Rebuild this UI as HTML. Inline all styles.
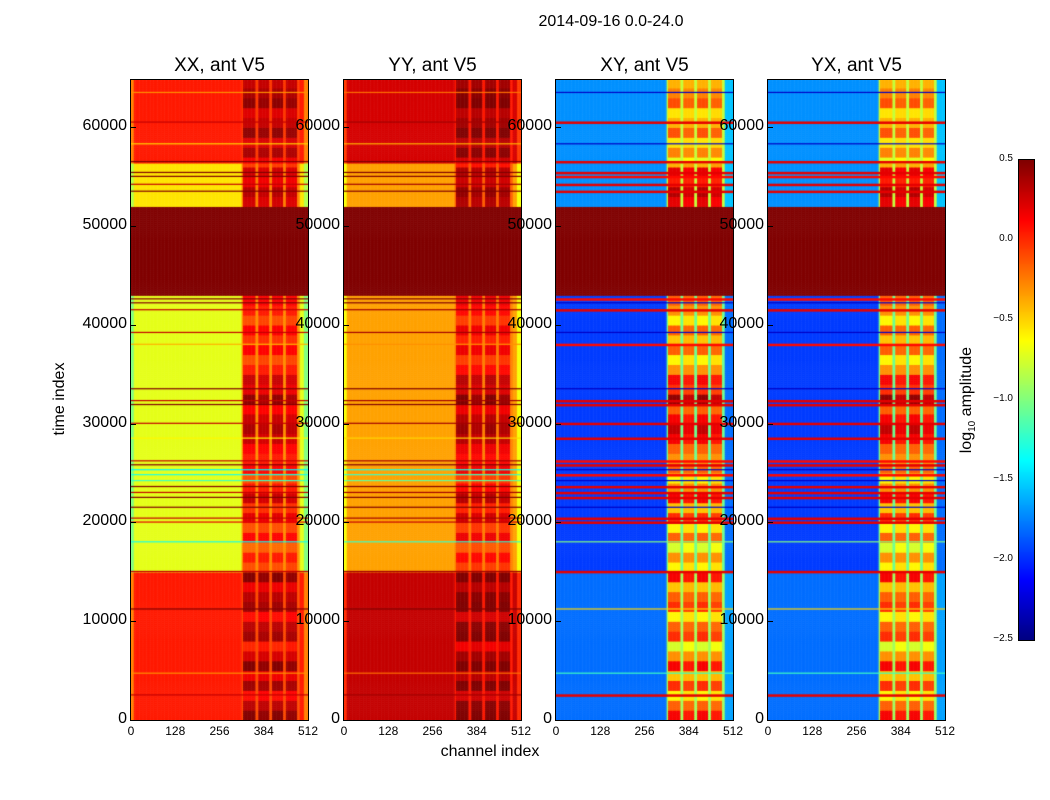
<!DOCTYPE html>
<html><head><meta charset="utf-8">
<style>
body{margin:0;background:#fff;width:1050px;height:800px;overflow:hidden;font-family:"Liberation Sans",sans-serif;position:relative}
.t{position:absolute;white-space:nowrap;color:#000}
canvas{position:absolute}
</style></head><body>
<div class="t" style="left:0;width:1222px;text-align:center;top:13px;font-size:16px">2014-09-16 0.0-24.0</div>
<div class="t" style="left:390px;width:200px;text-align:center;top:743px;font-size:16px">channel index</div>
<div class="t" style="left:-40px;width:200px;text-align:center;top:390px;font-size:16px;transform:rotate(-90deg)">time index</div>
<div class="t" style="left:868px;width:200px;text-align:center;top:390px;font-size:16px;transform:rotate(-90deg)">log<sub style="font-size:10px">10</sub> amplitude</div>
<canvas id="cb" width="15" height="480" style="left:1019px;top:160px;outline:1px solid #000"></canvas>
<div id="root"></div>
<script>
// ---- data ----
const pols = ['XX','YY','XY','YX'];
const panelLefts = [131,344,556,768];
const xTicks = [0,128,256,384,512];
const yTicks = [0,10000,20000,30000,40000,50000,60000];
const cbTicks = [0.5,0.0,-0.5,-1.0,-1.5,-2.0,-2.5];
// time bands: [start,end]
const bandStart = [0,15000,43000,52000,56500];
const bandEnd   = [15000,43000,52000,56500,65000];
// base levels per pol for each band
const baseXX = [0.05,-0.7,0.5,-0.55,0.05];
const baseYY = [0.3,-0.35,0.5,-0.35,0.25];
const baseXY = [-1.8,-1.95,0.5,-1.7,-1.7];
const baseYX = [-1.8,-1.95,0.5,-1.7,-1.7];
// stripe level (channels 325-480) per band
const stripeXX = [0.25,0.05,0.5,0.1,0.3];
const stripeYY = [0.4,0.1,0.5,0.2,0.4];
const stripeXY = [-0.3,-0.3,0.5,-0.1,-0.4];
const stripeYX = [-0.3,-0.3,0.5,-0.1,-0.4];
// stripe channel ranges
const stripeLo = [325,367,408,447];
const stripeHi = [361,402,441,480];
// stripe time modulation per 1000 units (65 values)
const stripeMod = [0.3,0.1,-0.2,0.2,-0.1,0.3,0,-0.3,0.2,0.1,-0.2,0.2,0.1,-0.1,0.3,
 -0.2,0,-0.3,0.1,-0.2,0.2,-0.1,0.3,0,-0.2,0.1,0,0.1,0.3,0.4,0.3,0.1,0.5,0.2,0.3,0,-0.2,0.1,-0.1,0.1,-0.2,0,0.1,
 0,0,0,0,0,0,0,0,0,0.2,0.3,0.1,0.2,-0.2,0.1,-0.1,0.2,0,-0.1,0.2,0.1,0];
// horizontal line events: time, XX/YY value, XY/YX value
const lineT  = [2500,4700,11200,15000,18000,20000,20400,21500,22500,23000,23600,24200,24800,25300,25800,26200,28500,30000,31900,32300,33500,38000,39200,41500,42200,42600,53500,54200,55000,55400,56500,58300,60500,63500];
const lineXX = [0.3,-0.3,0.5,0.3,-1.3,0.2,0.3,0.5,0.5,0.3,0.5,-1.2,-1.3,-1.4,0.5,0.3,-0.6,0.3,0.5,0.3,0.5,-0.4,0.3,0.3,0.5,0.5,0.5,0.3,0.5,0.5,0.5,-0.5,0.3,-0.3];
const lineXY = [0.2,-1.2,-0.5,0.2,-1.0,0.2,0.2,-2.3,0.2,0.2,0.2,-2.3,0.1,-2.3,0.2,0.1,0.2,0.2,0.2,0.2,-2.3,0.1,-2.3,0.2,-2.3,0.1,0.2,0.2,0.1,0.2,0.2,-2.3,0.2,-2.3];
// ---- scales ----
const W=177,H=640,TOP=80,TMAX=64800,CMAX=512,VMIN=-2.5,VMAX=0.5;
const xs = c=>c/CMAX*W, ys = t=>H - t/TMAX*H;
function jet(v){let x=(v-VMIN)/(VMAX-VMIN);x=Math.max(0,Math.min(1,x));
 const f=a=>Math.max(0,Math.min(1,a));
 return [f(1.5-Math.abs(4*x-3)),f(1.5-Math.abs(4*x-2)),f(1.5-Math.abs(4*x-1))].map(u=>Math.round(u*255));}
const bases={XX:baseXX,YY:baseYY,XY:baseXY,YX:baseYX}, stripes={XX:stripeXX,YY:stripeYY,XY:stripeXY,YX:stripeYX};
function value(p,t,c){
 let b=0;for(let i=0;i<bandStart.length;i++)if(t>=bandStart[i]&&t<bandEnd[i])b=i;
 let v=bases[p][b];const cross=(p==='XY'||p==='YX');
 if(b!==2){
  let inS=-1;for(let s=0;s<4;s++)if(c>=stripeLo[s]&&c<stripeHi[s])inS=s;
  const m=stripeMod[Math.min(64,Math.floor(t/1000))];
  if(inS>=0) v=stripes[p][b]+m*(cross?1.5:0.8)*(inS%2?0.8:1);
  else if(c>=320&&c<490) v=cross?v+0.9:stripes[p][b]-0.35;
  else if(cross&&c>=490) v+=0.15;
  if(!cross&&(c<8||c>500)) v-=0.3;
 }
 return v;
}
const root=document.getElementById('root');
pols.forEach((p,pi)=>{
 const L=panelLefts[pi];
 const cv=document.createElement('canvas');
 
 
 cv.width=W;cv.height=H;cv.style.left=L+'px';cv.style.top=TOP+'px';cv.style.outline='1px solid #000';
 root.appendChild(cv);
 const ctx=cv.getContext('2d');const cross=(p==='XY'||p==='YX');
 const dt=200,dc=4;
 for(let t=0;t<TMAX;t+=dt)for(let c=0;c<CMAX;c+=dc){
  const [r,g,bb]=jet(value(p,t+dt/2,c+dc/2));ctx.fillStyle=`rgb(${r},${g},${bb})`;
  const x0=xs(c),x1=xs(c+dc),y0=ys(t+dt),y1=ys(t);ctx.fillRect(x0,y0,x1-x0+0.5,y1-y0+0.5);
 }
 lineT.forEach((t,i)=>{
  if(t>=43000&&t<52000)return;
  const [r,g,bb]=jet(cross?lineXY[i]:(p==='YY'?lineXX[i]+0.1:lineXX[i]));ctx.fillStyle=`rgb(${r},${g},${bb})`;
  ctx.fillRect(0,ys(t)-1,W,(cross&&lineXY[i]>0)?2.5:1.2);
 });
 const ti=document.createElement('div');ti.className='t';
 
 
 ti.style.cssText=`left:${L}px;width:${W}px;text-align:center;top:55px;font-size:19px`;ti.textContent=p+', ant V5';root.appendChild(ti);
 xTicks.forEach(v=>{const d=document.createElement('div');d.className='t';
  
  
  d.style.cssText=`left:${L+xs(v)-20}px;width:40px;text-align:center;top:724px;font-size:12px`;d.textContent=v;root.appendChild(d);});
 yTicks.forEach(v=>{const d=document.createElement('div');d.className='t';
  
  
  d.style.cssText=`left:${L-104}px;width:100px;text-align:right;top:${TOP+ys(v)-10}px;font-size:16px`;d.textContent=v;root.appendChild(d);
  const tk=document.createElement('div');tk.className='t';
  
  
  tk.style.cssText=`left:${L}px;top:${TOP+ys(v)}px;width:5px;height:1px;background:#000`;root.appendChild(tk);});
});
const cb=document.getElementById('cb').getContext('2d');
for(let y=0;y<480;y++){const v=VMAX-(y/480)*(VMAX-VMIN);const [r,g,b]=jet(v);cb.fillStyle=`rgb(${r},${g},${b})`;cb.fillRect(0,y,15,1);}
cbTicks.forEach(v=>{const y=160+(VMAX-v)/(VMAX-VMIN)*480;const d=document.createElement('div');d.className='t';
 
 
 d.style.cssText=`left:973px;width:40px;text-align:right;top:${y-7}px;font-size:10px`;d.textContent=v.toFixed(1).replace('-','\u2212');document.body.appendChild(d);});
</script>
</body></html>
